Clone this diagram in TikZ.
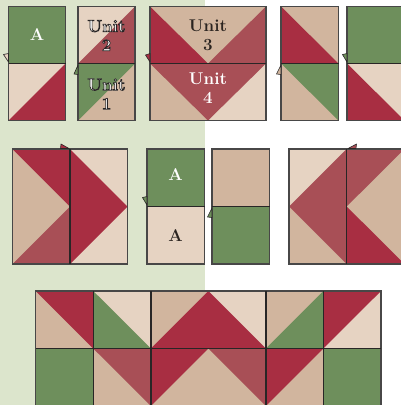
\documentclass[tikz,border=0pt]{standalone}
\usepackage{xcolor}
\usepackage{tikz}
\definecolor{meadow}{RGB}{220,229,204}
\definecolor{leaf}{RGB}{110,143,92}
\definecolor{berry}{RGB}{168,46,66}
\definecolor{rosewood}{RGB}{168,79,86}
\definecolor{sand}{RGB}{209,181,158}
\definecolor{blush}{RGB}{230,211,194}
\definecolor{seamline}{RGB}{40,38,38}
\definecolor{ink}{RGB}{43,36,32}
% white letters with a dark rim
\newcommand{\rimtext}[1]{\special{pdf:literal 2 Tr 0.7 w 0.16 0.15 0.15 RG}#1\special{pdf:literal 0 Tr}}

\begin{document}
\begin{tikzpicture}[x=1pt, y=-1pt,
    edge/.style={draw=seamline!85, line width=1.2pt},
    seam/.style={draw=seamline, line width=1.5pt},
    notch/.style={draw=seamline, line width=0.6pt, line join=round},
    unitlbl/.style={font=\fontsize{17}{19}\selectfont\bfseries, align=center, inner sep=0pt}]
  \useasboundingbox (0,0) rectangle (401,405);
  \clip (0,0) rectangle (401,405);
  \fill[meadow] (0,0) rectangle (204.5,405);

  % --- top row: single units
  \fill[leaf] (8.5,6.5) rectangle (65.5,63.5);
  \fill[blush] (8.5,63.5) rectangle (65.5,120.5);
  \fill[berry] (65.5,63.5) -- (65.5,120.5) -- (8.5,120.5) -- cycle;
  \draw[edge] (8.5,6.5) rectangle (65.5,120.5);
  \draw[seam] (8.5,63.5) -- (65.5,63.5);
  \filldraw[notch, fill=blush] (8.5,53.5) -- (3.5,54.5) -- (8.5,62) -- cycle;
  \node[unitlbl, white] (topA) at (37,35) {A};

  \fill[blush] (78,6.5) rectangle (135,63.5);
  \fill[rosewood] (135,6.5) -- (135,63.5) -- (78,63.5) -- cycle;
  \fill[sand] (78,63.5) rectangle (135,120.5);
  \fill[leaf] (78,63.5) -- (135,63.5) -- (78,120.5) -- cycle;
  \draw[edge] (78,6.5) rectangle (135,120.5);
  \draw[seam] (78,63.5) -- (135,63.5);
  \filldraw[notch, fill=leaf] (78,65) -- (74,74) -- (78,74.5) -- cycle;
  \node[unitlbl, white] (unitTwo) at (106.5,35.5) {\rimtext{Unit}\\\rimtext{2}};
  \node[unitlbl, white] (unitOne) at (106.5,94) {\rimtext{Unit}\\\rimtext{1}};

  \fill[sand] (150,6.5) rectangle (266,63.5);
  \fill[berry] (150,6.5) -- (208,63.5) -- (150,63.5) -- cycle;
  \fill[rosewood] (266,6.5) -- (266,63.5) -- (208,63.5) -- cycle;
  \fill[sand] (150,63.5) rectangle (208,120.5);
  \fill[blush] (208,63.5) rectangle (266,120.5);
  \fill[rosewood] (150,63.5) -- (266,63.5) -- (208,120.5) -- cycle;
  \draw[edge] (150,6.5) rectangle (266,120.5);
  \draw[seam] (150,63.5) -- (266,63.5);
  \filldraw[notch, fill=berry] (150,53.5) -- (145.5,55) -- (150,62) -- cycle;
  \node[unitlbl, ink] (unitThree) at (208,35.5) {Unit\\3};
  \node[unitlbl, white] (unitFour) at (208,88.5) {Unit\\4};

  \fill[sand] (281,6.5) rectangle (338.5,63.5);
  \fill[berry] (281,6.5) -- (338.5,63.5) -- (281,63.5) -- cycle;
  \fill[sand] (281,63.5) rectangle (338.5,120.5);
  \fill[leaf] (281,63.5) -- (338.5,63.5) -- (338.5,120.5) -- cycle;
  \draw[edge] (281,6.5) rectangle (338.5,120.5);
  \draw[seam] (281,63.5) -- (338.5,63.5);
  \filldraw[notch, fill=sand] (281,65) -- (276.5,74) -- (281,74.5) -- cycle;

  \fill[leaf] (347,6.5) rectangle (404.5,63.5);
  \fill[blush] (347,63.5) rectangle (404.5,120.5);
  \fill[berry] (347,63.5) -- (404.5,120.5) -- (347,120.5) -- cycle;
  \draw[edge] (347,6.5) rectangle (404.5,120.5);
  \draw[seam] (347,63.5) -- (404.5,63.5);
  \filldraw[notch, fill=leaf] (347,53.5) -- (342.5,54.5) -- (347,62) -- cycle;

  % --- middle row: pairs
  \fill[sand] (12.5,149) rectangle (70,264);
  \fill[berry] (12.5,149) -- (70,149) -- (70,206.5) -- cycle;
  \fill[rosewood] (12.5,264) -- (70,206.5) -- (70,264) -- cycle;
  \fill[blush] (70,149) rectangle (127.5,264);
  \fill[berry] (70,149) -- (127.5,206.5) -- (70,264) -- cycle;
  \draw[edge] (12.5,149) rectangle (127.5,264);
  \draw[seam] (70,149) -- (70,264);
  \filldraw[notch, fill=berry] (69,148.5) -- (61,144) -- (60.5,148.5) -- cycle;

  \fill[leaf] (147,149) rectangle (204.5,206.5);
  \fill[blush] (147,206.5) rectangle (204.5,264);
  \draw[edge] (147,149) rectangle (204.5,264);
  \draw[seam] (147,206.5) -- (204.5,206.5);
  \filldraw[notch, fill=leaf] (147,196.5) -- (142.5,197.5) -- (147,205) -- cycle;
  \node[unitlbl, white] (midA) at (175.5,175) {A};
  \node[unitlbl, ink] (lowA) at (175.5,236) {A};

  \fill[sand] (212,149) rectangle (269.5,206.5);
  \fill[leaf] (212,206.5) rectangle (269.5,264);
  \draw[edge] (212,149) rectangle (269.5,264);
  \draw[seam] (212,206.5) -- (269.5,206.5);
  \filldraw[notch, fill=leaf] (212,208) -- (207.5,217) -- (212,217.5) -- cycle;

  \fill[blush] (289,149) rectangle (346.7,264);
  \fill[sand] (289,206.5) -- (346.7,264) -- (289,264) -- cycle;
  \fill[rosewood] (346.7,149) -- (289,206.5) -- (346.7,264) -- cycle;
  \fill[sand] (346.7,149) rectangle (404.4,264);
  \fill[rosewood] (346.7,149) -- (404.4,149) -- (346.7,206.5) -- cycle;
  \fill[berry] (346.7,206.5) -- (346.7,264) -- (404.4,264) -- cycle;
  \draw[edge] (289,149) rectangle (404.4,264);
  \draw[seam] (346.7,149) -- (346.7,264);
  \filldraw[notch, fill=rosewood] (348,148.5) -- (356.5,144) -- (356,148.5) -- cycle;

  % --- bottom band
  \fill[sand] (35.7,291) rectangle (93.25,348.5);
  \fill[berry] (35.7,291) -- (93.25,291) -- (93.25,348.5) -- cycle;
  \fill[blush] (93.25,291) rectangle (150.8,348.5);
  \fill[leaf] (93.25,291) -- (150.8,348.5) -- (93.25,348.5) -- cycle;
  \fill[sand] (150.8,291) rectangle (208.35,348.5);
  \fill[blush] (208.35,291) rectangle (265.9,348.5);
  \fill[berry] (150.8,348.5) -- (208.35,291) -- (265.9,348.5) -- cycle;
  \fill[sand] (265.9,291) rectangle (323.45,348.5);
  \fill[leaf] (265.9,348.5) -- (323.45,291) -- (323.45,348.5) -- cycle;
  \fill[blush] (323.45,291) rectangle (381,348.5);
  \fill[berry] (323.45,291) -- (381,291) -- (323.45,348.5) -- cycle;

  \fill[leaf] (35.7,348.5) rectangle (93.25,406);
  \fill[sand] (93.25,348.5) rectangle (150.8,406);
  \fill[rosewood] (93.25,348.5) -- (150.8,348.5) -- (150.8,406) -- cycle;
  \fill[sand] (150.8,348.5) rectangle (265.9,406);
  \fill[berry] (150.8,348.5) -- (208.35,348.5) -- (150.8,406) -- cycle;
  \fill[rosewood] (208.35,348.5) -- (265.9,348.5) -- (265.9,406) -- cycle;
  \fill[sand] (265.9,348.5) rectangle (323.45,406);
  \fill[berry] (265.9,348.5) -- (323.45,348.5) -- (265.9,406) -- cycle;
  \fill[leaf] (323.45,348.5) rectangle (381,406);

  \draw[edge] (35.7,291) rectangle (381,406);
  \draw[seam] (35.7,348.5) -- (381,348.5);
  \draw[seam] (93.25,291) -- (93.25,406) (150.8,291) -- (150.8,406)
              (265.9,291) -- (265.9,406) (323.45,291) -- (323.45,406);
\end{tikzpicture}
\end{document}
